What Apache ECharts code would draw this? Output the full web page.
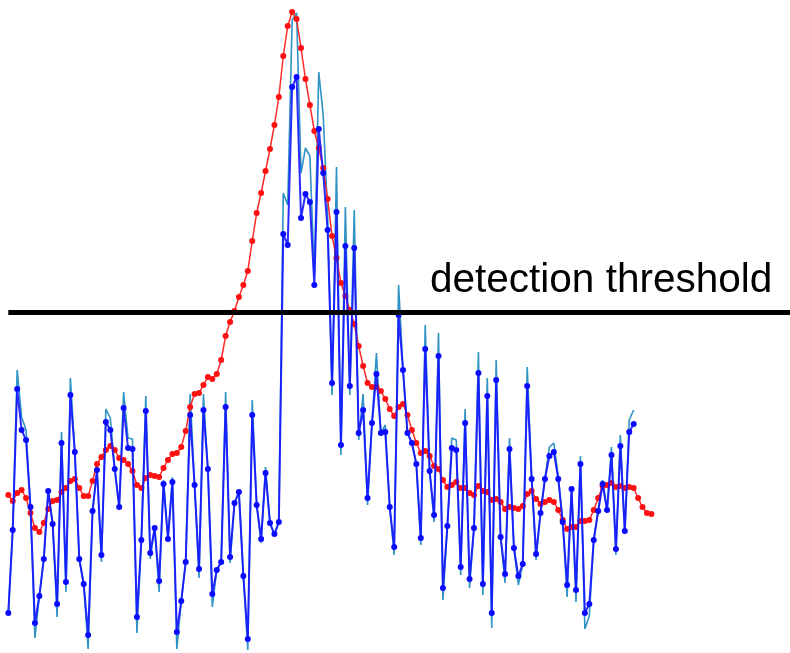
<!DOCTYPE html>
<html>
<head>
<meta charset="utf-8">
<style>
  html, body { margin: 0; padding: 0; background: #ffffff; }
  #chart { width: 790px; height: 653px; }
</style>
<script src="https://cdn.jsdelivr.net/npm/echarts@6/dist/echarts.min.js"></script>
</head>
<body>
<div id="chart"></div>
<script>
// Raw samples (thin trace)
const rawSignal = [
  27, 110, 270, 223, 210, 133, 2, 44, 81, 149, 116, 23, 208, 48, 262, 188, 81, 56, -9, 129,
  170, 78, 231, 222, 171, 133, 248, 202, 201, 7, 100, 244, 81, 112, 48, 160, 101, 163, -9, 39,
  78, 246, 155, 62, 246, 171, 33, 70, 78, 248, 77, 137, 148, 64, -10, 240, 135, 97, 173, 117,
  104, 118, 447, 435, 620, 627, 467, 492, 484, 365, 568, 525, 425, 245, 473, 185, 433, 245, 430, 200,
  246, 135, 217, 287, 207, 215, 133, 85, 355, 270, 207, 197, 176, 95, 315, 169, 118, 307, 40, 114,
  202, 200, 65, 231, 52, 112, 288, 45, 262, 12, 280, 103, 57, 202, 92, 55, 76, 273, 161, 80,
  127, 162, 193, 197, 164, 118, 43, 151, 38, 184, 11, 24, 100, 129, 160, 130, 193, 85, 205, 107,
  220, 230
];

// Sampled signal (blue, with markers)
const sampledSignal = [
  27, 110, 251, 210, 200, 133, 17, 44, 81, 149, 116, 36, 197, 58, 245, 188, 81, 56, 5, 129,
  170, 85, 218, 210, 171, 133, 232, 192, 191, 23, 100, 229, 87, 112, 59, 156, 101, 158, 8, 39,
  78, 225, 155, 71, 230, 171, 46, 70, 78, 233, 83, 137, 148, 64, 1, 225, 135, 101, 167, 117,
  106, 118, 406, 395, 553, 563, 422, 446, 438, 355, 511, 467, 410, 257, 428, 195, 394, 254, 392, 207,
  230, 142, 217, 266, 207, 208, 133, 93, 325, 270, 207, 197, 176, 102, 291, 169, 125, 284, 52, 114,
  192, 190, 73, 217, 61, 112, 267, 56, 244, 27, 260, 103, 66, 191, 92, 64, 76, 254, 161, 86,
  127, 161, 184, 188, 161, 118, 55, 151, 50, 176, 27, 36, 100, 129, 156, 130, 185, 91, 194, 109,
  208, 216
];

// Smoothed signal (red)
const smoothedSignal = [
  145, 139, 147, 150, 142, 127, 112, 108, 117, 131, 139, 140, 148, 152, 159, 161, 152, 144, 144, 159,
  176, 183, 190, 194, 190, 182, 180, 176, 169, 155, 152, 162, 165, 164, 163, 172, 180, 186, 187, 193,
  209, 233, 246, 247, 255, 263, 261, 266, 280, 304, 318, 329, 343, 355, 369, 399, 427, 447, 469, 491,
  515, 543, 584, 614, 628, 621, 592, 561, 535, 509, 492, 472, 441, 404, 382, 357, 344, 330, 316, 294,
  274, 257, 253, 253, 249, 241, 231, 224, 233, 236, 225, 210, 197, 187, 189, 184, 174, 171, 160, 153,
  155, 158, 152, 152, 147, 145, 154, 149, 148, 140, 141, 138, 131, 133, 132, 131, 134, 146, 149, 141,
  136, 138, 140, 138, 130, 120, 111, 113, 113, 119, 119, 120, 130, 142, 154, 155, 157, 153, 154, 152,
  153, 152, 142, 133, 127, 126
];

const thresholdLevel = 327.5;
const thresholdLabel = 'detection threshold';

const toPoints = arr => arr.map((v, i) => [i, v]);

const chart = echarts.init(document.getElementById('chart'), null, { renderer: 'canvas' });

chart.setOption({
  animation: false,
  backgroundColor: '#ffffff',
  grid: { left: 8.3, top: 0, width: 781.7, height: 653, containLabel: false },
  xAxis: { type: 'value', min: 0, max: 176.25, show: false },
  yAxis: { type: 'value', min: -13, max: 640, show: false },
  series: [
    {
      name: 'raw',
      type: 'line',
      data: toPoints(rawSignal),
      symbol: 'none',
      lineStyle: { color: '#2f93c6', width: 1.6 },
      z: 1,
      silent: true
    },
    {
      name: 'smoothed',
      type: 'line',
      data: toPoints(smoothedSignal),
      symbol: 'circle',
      symbolSize: 6,
      showAllSymbol: true,
      lineStyle: { color: '#ff2a2a', width: 1.5 },
      itemStyle: { color: '#ff1010' },
      z: 2,
      silent: true,
      markLine: {
        silent: true,
        symbol: ['none', 'none'],
        label: { show: false },
        lineStyle: { color: '#000000', width: 5, type: 'solid', opacity: 1 },
        data: [{ yAxis: thresholdLevel }]
      }
    },
    {
      name: 'sampled',
      type: 'line',
      data: toPoints(sampledSignal),
      symbol: 'circle',
      symbolSize: 6,
      showAllSymbol: true,
      lineStyle: { color: '#1414ff', width: 2, opacity: 0.9 },
      itemStyle: { color: '#0a0aff' },
      z: 3,
      silent: true
    }
  ],
  graphic: [
    {
      type: 'text',
      left: 430,
      top: 260,
      style: {
        text: thresholdLabel,
        font: '40.5px "Liberation Sans", Arial, sans-serif',
        fill: '#000000'
      }
    }
  ]
});
</script>
</body>
</html>
